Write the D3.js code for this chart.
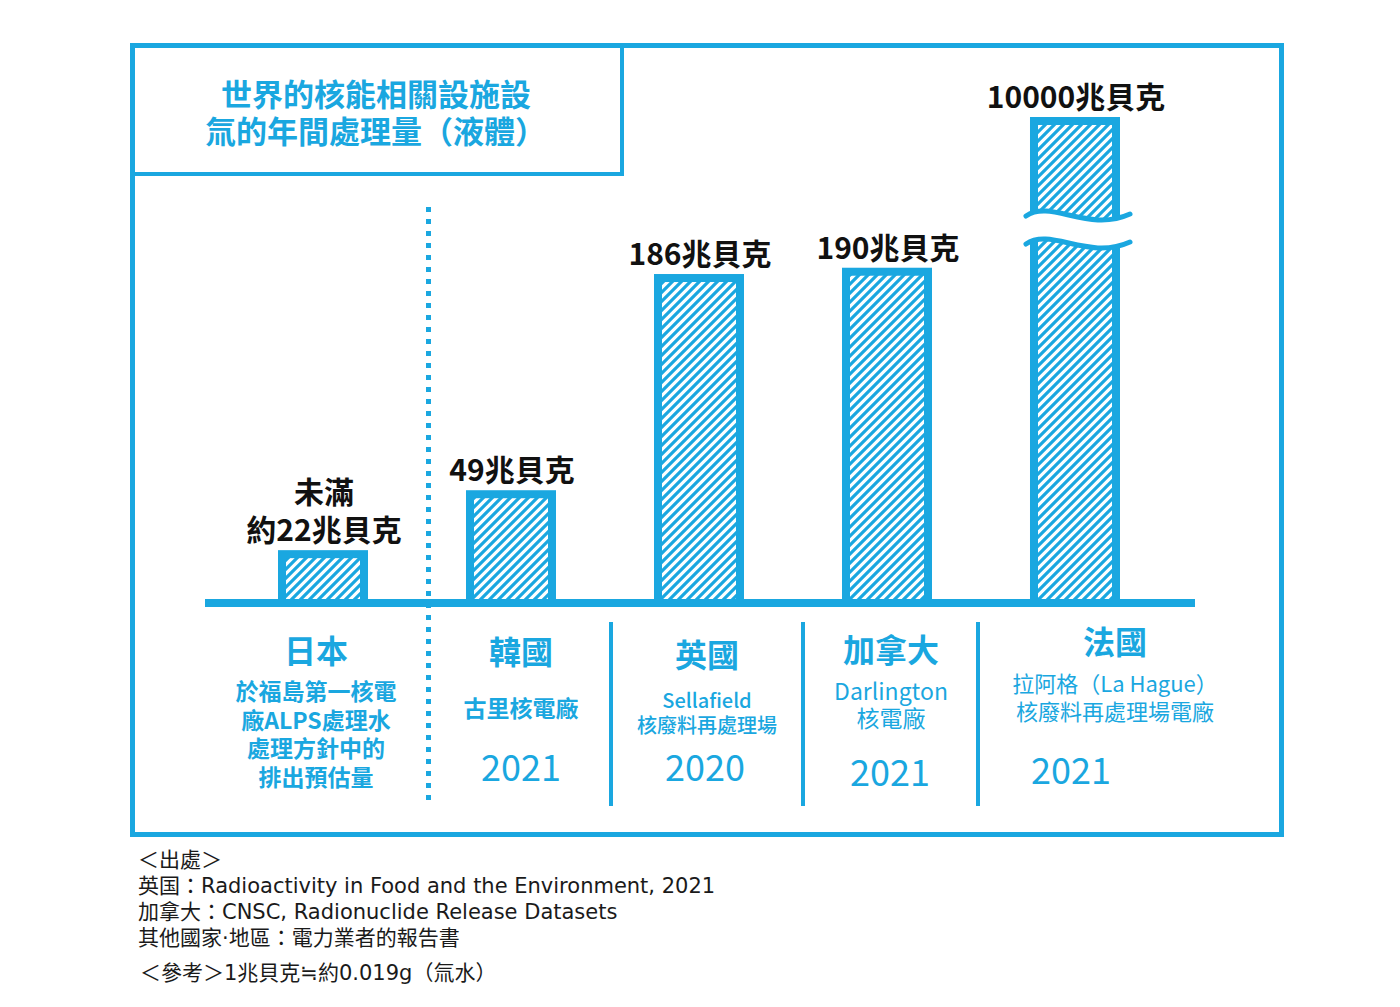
<!DOCTYPE html>
<html>
<head>
<meta charset="utf-8">
<script src="https://cdn.jsdelivr.net/npm/d3@7"></script>
<style>
  html, body { margin: 0; padding: 0; background: #fff; }
  svg { display: block; font-family: "Noto Sans CJK TC", "Noto Sans", sans-serif; }
</style>
</head>
<body>
<svg id="chart" width="1400" height="1007"></svg>
<script>
// ---------- data ----------
const countries = ["日本", "韓國", "英國", "加拿大", "法國"];
const values = [22, 49, 186, 190, 10000];
const valueLabels = [["未滿", "約22兆貝克"], ["49兆貝克"], ["186兆貝克"], ["190兆貝克"], ["10000兆貝克"]];
const facilities = [
  ["於福島第一核電", "廠ALPS處理水", "處理方針中的", "排出預估量"],
  ["古里核電廠"],
  ["Sellafield", "核廢料再處理場"],
  ["Darlington", "核電廠"],
  ["拉阿格（La Hague）", "核廢料再處理場電廠"]
];
const years = ["", "2021", "2020", "2021", "2021"];
const titleLines = ["世界的核能相關設施設", "氚的年間處理量（液體）"];
const sourceLines = [
  "＜出處＞",
  "英国：Radioactivity in Food and the Environment, 2021",
  "加拿大：CNSC, Radionuclide Release Datasets",
  "其他國家·地區：電力業者的報告書"
];
const noteLine = "＜參考＞1兆貝克≒約0.019g（氚水）";

// ---------- layout ----------
const BLUE = "#1aa7e0";
const svg = d3.select("#chart");
const baseY = 603;

// broken (non-proportional) value axis, as in the illustration
const y = d3.scaleLinear().domain([0, 50, 200, 10000]).range([baseY, 492, 256, 121]);
const x = d3.scaleBand().domain(countries).range([282, 1116]).paddingInner(0.5638).paddingOuter(0);

const cols = [
  { cx: 316, nameY: 649, subY: 690, subGap: 28.5, subSize: 23, subW: 700 },
  { cx: 521, nameY: 650, subY: 707, subGap: 28, subSize: 23, subW: 700, yearX: 521, yearY: 765 },
  { cx: 707, nameY: 653, subY: 699, subGap: 25, subSize: 20, subW: 500, yearX: 705, yearY: 765 },
  { cx: 891, nameY: 648, subY: 690, subGap: 27, subSize: 23, subW: 400, yearX: 890, yearY: 770 },
  { cx: 1115, nameY: 640, subY: 682, subGap: 28, subSize: 22, subW: 400, yearX: 1071, yearY: 768 }
];

// hatch pattern
const defs = svg.append("defs");
const pat = defs.append("pattern").attr("id", "hatch")
  .attr("patternUnits", "userSpaceOnUse").attr("width", 9).attr("height", 9);
pat.append("rect").attr("width", 9).attr("height", 9).attr("fill", "#fff");
pat.append("path").attr("d", "M0,9 L9,0 M-3,3 L3,-3 M6,12 L12,6")
  .attr("stroke", BLUE).attr("stroke-width", 3.2);

// frame
svg.append("rect").attr("x", 132.5).attr("y", 45.5).attr("width", 1149).attr("height", 789)
  .attr("fill", "none").attr("stroke", BLUE).attr("stroke-width", 5);
// title box
svg.append("path").attr("d", "M622,45 L622,174 L132,174")
  .attr("fill", "none").attr("stroke", BLUE).attr("stroke-width", 4);

svg.selectAll(".title").data(titleLines).join("text")
  .attr("x", (d, i) => i === 0 ? 221 : 205)
  .attr("y", (d, i) => 92 + i * 37)
  .attr("dominant-baseline", "central")
  .attr("font-size", 31).attr("font-weight", 700).attr("fill", BLUE)
  .text(d => d);

// dotted separator
svg.append("line").attr("x1", 428.5).attr("x2", 428.5).attr("y1", 207).attr("y2", 802)
  .attr("stroke", BLUE).attr("stroke-width", 5).attr("stroke-dasharray", "5 7");

// solid separators
[611, 803, 978].forEach(sx => {
  svg.append("line").attr("x1", sx).attr("x2", sx).attr("y1", 622).attr("y2", 806)
    .attr("stroke", BLUE).attr("stroke-width", 4);
});

// bars
const data = countries.map((c, i) => ({ c, v: values[i], i }));
svg.selectAll(".bar").data(data).join("rect")
  .attr("x", d => x(d.c))
  .attr("y", d => y(d.v))
  .attr("width", x.bandwidth())
  .attr("height", d => baseY - y(d.v))
  .attr("fill", "url(#hatch)")
  .attr("stroke", BLUE).attr("stroke-width", 8);

// break mark on the tallest bar
const fr = x("法國"), fw = x.bandwidth();
const wave = (x0, x1, yy) => `M${x0},${yy} C${x0 + 25},${yy - 17} ${x1 - 42},${yy + 17} ${x1},${yy - 2}`;
const wx0 = fr - 8, wx1 = fr + fw + 14;
const w1 = 216, w2 = 244;
svg.append("path")
  .attr("d", `M${wx0 - 4},${w1} C${wx0 + 21},${w1 - 17} ${wx1 - 42},${w1 + 17} ${wx1 + 4},${w1 - 2} L${wx1 + 4},${w2 - 2} C${wx1 - 42},${w2 + 17} ${wx0 + 21},${w2 - 17} ${wx0 - 4},${w2} Z`)
  .attr("fill", "#fff");
[w1, w2].forEach(wy => {
  svg.append("path").attr("d", wave(wx0, wx1, wy))
    .attr("fill", "none").attr("stroke", BLUE).attr("stroke-width", 5).attr("stroke-linecap", "round");
});

// baseline
svg.append("line").attr("x1", 205).attr("x2", 1195).attr("y1", baseY).attr("y2", baseY)
  .attr("stroke", BLUE).attr("stroke-width", 8);

// value labels
data.forEach(d => {
  const lines = valueLabels[d.i];
  const top = y(d.v);
  lines.forEach((t, j) => {
    svg.append("text")
      .attr("x", x(d.c) + x.bandwidth() / 2 + 1)
      .attr("y", top - 26 - (lines.length - 1 - j) * 38)
      .attr("text-anchor", "middle").attr("dominant-baseline", "central")
      .attr("font-size", 30).attr("font-weight", 700).attr("fill", "#111")
      .text(t);
  });
});

// category labels
countries.forEach((c, i) => {
  const L = cols[i];
  svg.append("text").attr("x", L.cx).attr("y", L.nameY)
    .attr("text-anchor", "middle").attr("dominant-baseline", "central")
    .attr("font-size", 32).attr("font-weight", 700).attr("fill", BLUE).text(c);
  facilities[i].forEach((t, j) => {
    svg.append("text").attr("x", L.cx).attr("y", L.subY + j * L.subGap)
      .attr("text-anchor", "middle").attr("dominant-baseline", "central")
      .attr("font-size", L.subSize).attr("font-weight", L.subW).attr("fill", BLUE).text(t);
  });
  if (years[i]) {
    svg.append("text").attr("x", L.yearX).attr("y", L.yearY)
      .attr("text-anchor", "middle").attr("dominant-baseline", "central")
      .attr("font-size", 36).attr("font-weight", 400).attr("fill", BLUE).text(years[i]);
  }
});

// sources
const srcFont = "'DejaVu Sans', 'Noto Sans CJK TC', sans-serif";
svg.selectAll(".src").data(sourceLines).join("text")
  .attr("x", 138).attr("y", (d, i) => 860 + i * 26)
  .attr("dominant-baseline", "central")
  .style("font-family", srcFont)
  .attr("font-size", 21).attr("fill", "#1a1a1a").text(d => d);
svg.append("text").attr("x", 140).attr("y", 973)
  .attr("dominant-baseline", "central")
  .style("font-family", srcFont)
  .attr("font-size", 21).attr("fill", "#1a1a1a").text(noteLine);
</script>
</body>
</html>
